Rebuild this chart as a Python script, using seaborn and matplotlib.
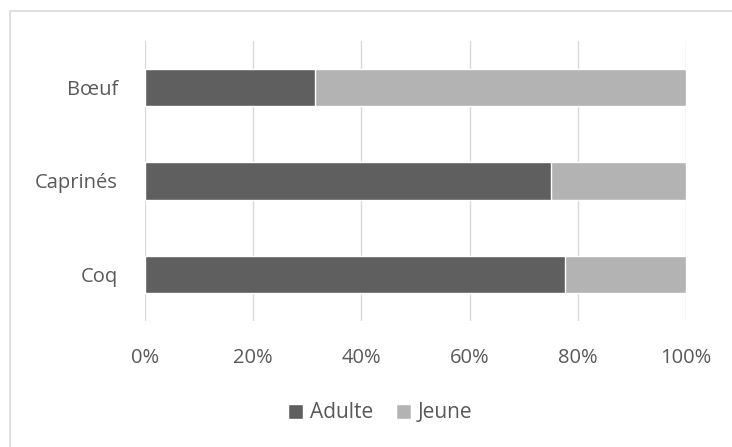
import matplotlib
matplotlib.use("Agg")
import matplotlib.pyplot as plt
import seaborn as sns
import pandas as pd
from matplotlib.patches import Rectangle, Patch
from matplotlib.ticker import PercentFormatter

categories = ["Bœuf", "Caprinés", "Coq"]
adulte = [31.4, 75.0, 77.7]
jeune = [68.6, 25.0, 22.3]
x_ticks = [0, 20, 40, 60, 80, 100]

DARK = "#5f5f5f"
LIGHT = "#b3b3b3"
TEXT = "#595959"
GRID = "#d9d9d9"
FS = 14.5

sns.set_theme(style="white")
plt.rcParams["font.family"] = ["Open Sans", "DejaVu Sans"]

df = pd.DataFrame({"cat": categories, "adulte": adulte, "jeune": jeune})
df["total"] = df["adulte"] + df["jeune"]

fig = plt.figure(figsize=(7.32, 4.47), dpi=100)
ax = fig.add_axes([145 / 732, 1 - 321.25 / 447, 541 / 732, 280.5 / 447])

# full-width light bar for "Jeune", dark "Adulte" share drawn over it
sns.barplot(data=df, y="cat", x="total", orient="h", color=LIGHT,
            width=0.4, saturation=1, ax=ax, zorder=2)
sns.barplot(data=df, y="cat", x="adulte", orient="h", color=DARK,
            width=0.4, saturation=1, ax=ax, zorder=3)

ax.set_xlim(0, 100)
ax.set_ylim(2.5, -0.5)
ax.set_xticks(x_ticks)
ax.xaxis.set_major_formatter(PercentFormatter(decimals=0))
ax.grid(axis="x", color=GRID, linewidth=1, zorder=0)
ax.grid(axis="y", visible=False)
for s in ax.spines.values():
    s.set_visible(False)
ax.set_xlabel("")
ax.set_ylabel("")
ax.tick_params(axis="both", length=0, labelsize=FS, labelcolor=TEXT)
ax.tick_params(axis="x", pad=19)
ax.tick_params(axis="y", pad=19.5)

handles = [Patch(facecolor=DARK, label="Adulte"), Patch(facecolor=LIGHT, label="Jeune")]
fig.legend(handles=handles, loc="center", bbox_to_anchor=(380 / 732, 1 - 413 / 447),
           ncol=2, frameon=False, fontsize=15, labelcolor=TEXT,
           handlelength=0.75, handleheight=0.75, handletextpad=0.3,
           columnspacing=1.1, borderpad=0)

fig.patches.append(Rectangle((10 / 732, -0.1), 2, 1 - 11 / 447 + 0.1,
                             transform=fig.transFigure, fill=False,
                             edgecolor=GRID, linewidth=1.2))

fig.savefig("out.png", dpi=100)
